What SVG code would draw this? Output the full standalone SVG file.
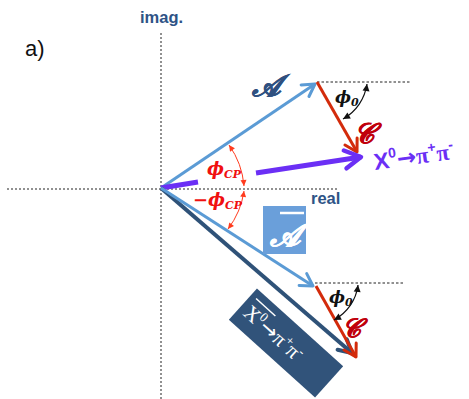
<svg xmlns="http://www.w3.org/2000/svg" width="469" height="399" viewBox="0 0 469 399">
<style>
.axis{stroke:#222;stroke-width:1;stroke-dasharray:2 2;fill:none}
.ref{stroke:#222;stroke-width:1;stroke-dasharray:2.5 2;fill:none}
.lbl{font-family:"Liberation Sans","DejaVu Sans",sans-serif;font-weight:bold;fill:#2e5386}
.phi{font-family:"DejaVu Serif","DejaVu Sans",serif;font-weight:bold;font-style:italic}
.scr{font-family:"DejaVu Serif","DejaVu Sans","Noto Sans",serif}
</style>
<defs>
<marker id="mBlue" viewBox="-14 -8 16 16" markerWidth="16" markerHeight="16" refX="0" refY="0" orient="auto" markerUnits="userSpaceOnUse" overflow="visible"><path d="M-12,-7 L0,0 L-12,7" fill="none" stroke="#5b9bd5" stroke-width="3" stroke-linecap="round" stroke-linejoin="round"/></marker>
<marker id="mRed" viewBox="-14 -8 16 16" markerWidth="16" markerHeight="16" refX="0" refY="0" orient="auto" markerUnits="userSpaceOnUse" overflow="visible"><path d="M-12,-7 L0,0 L-12,7" fill="none" stroke="#d32b0b" stroke-width="3" stroke-linecap="round" stroke-linejoin="round"/></marker>
<marker id="mDark" viewBox="-14 -8 16 16" markerWidth="16" markerHeight="16" refX="0" refY="0" orient="auto" markerUnits="userSpaceOnUse" overflow="visible"><path d="M-13,-7 L0,0 L-13,7" fill="none" stroke="#2f5278" stroke-width="4" stroke-linecap="round" stroke-linejoin="round"/></marker>
<marker id="mPurple" viewBox="-20 -10 22 20" markerWidth="22" markerHeight="20" refX="0" refY="0" orient="auto" markerUnits="userSpaceOnUse" overflow="visible"><path d="M-16,-9 L0,0 L-16,9" fill="none" stroke="#6b2ff5" stroke-width="4.5" stroke-linecap="round" stroke-linejoin="round"/></marker>
<marker id="aRed" viewBox="-6 -4 7 8" markerWidth="7" markerHeight="8" refX="0" refY="0" orient="auto-start-reverse" markerUnits="userSpaceOnUse" overflow="visible"><path d="M-6,-3 L0,0 L-6,3 Z" fill="#ff3b1e"/></marker>
<marker id="aBlack" viewBox="-6 -4 7 8" markerWidth="7" markerHeight="8" refX="0" refY="0" orient="auto-start-reverse" markerUnits="userSpaceOnUse" overflow="visible"><path d="M-7,-3.5 L0,0 L-7,3.5 Z" fill="#111"/></marker>
</defs>

<g id="axes">
<line class="axis" x1="161" y1="33" x2="161" y2="399"/>
<line class="axis" x1="7" y1="189" x2="338" y2="189"/>
<line class="ref" x1="317" y1="82" x2="410" y2="82"/>
<line class="ref" x1="315" y1="283" x2="403" y2="283"/>
</g>

<text x="25" y="56" font-family="Liberation Sans, DejaVu Sans, sans-serif" font-size="22" fill="#111">a)</text>
<text class="lbl" x="140" y="23" font-size="16.5">imag.</text>
<text class="lbl" x="311" y="204" font-size="16.5">real</text>

<g id="connectors">
<line x1="161" y1="188" x2="315" y2="84" stroke="#5b9bd5" stroke-width="3" marker-end="url(#mBlue)"/>
<line x1="317" y1="82" x2="357" y2="152" stroke="#d32b0b" stroke-width="3" marker-end="url(#mRed)"/>
<line x1="161" y1="188" x2="198" y2="182" stroke="#6b2ff5" stroke-width="5"/>
<line x1="256" y1="173" x2="361" y2="157" stroke="#6b2ff5" stroke-width="5" marker-end="url(#mPurple)"/>
<line x1="161" y1="188" x2="352" y2="353" stroke="#2f5278" stroke-width="4" marker-end="url(#mDark)"/>
<line x1="161" y1="188" x2="313" y2="286" stroke="#5b9bd5" stroke-width="3" marker-end="url(#mBlue)"/>
<line x1="316" y1="286" x2="356" y2="357" stroke="#d32b0b" stroke-width="3" marker-end="url(#mRed)"/>
<path d="M229,145 A82,82 0 0,1 244,186" fill="none" stroke="#ff3b1e" stroke-width="1" marker-start="url(#aRed)" marker-end="url(#aRed)"/>
<path d="M244,191 A82,82 0 0,1 228,229" fill="none" stroke="#ff3b1e" stroke-width="1" marker-start="url(#aRed)" marker-end="url(#aRed)"/>
<path d="M367,84 A48,48 0 0,1 343,119" fill="none" stroke="#111" stroke-width="1.2" marker-start="url(#aBlack)" marker-end="url(#aBlack)"/>
<path d="M358,285 A46,46 0 0,1 334,320" fill="none" stroke="#111" stroke-width="1.2" marker-start="url(#aBlack)" marker-end="url(#aBlack)"/>
</g>

<g id="labels">
<text class="scr" x="252" y="96" font-size="30" font-weight="bold" font-style="italic" fill="#2f5080" stroke="#2f5080" stroke-width="0.6">𝒜</text>
<text class="scr" x="354" y="143" font-size="28" font-weight="bold" font-style="italic" fill="#c0000c" stroke="#c0000c" stroke-width="0.6">𝒞</text>
<text class="scr" x="342" y="337" font-size="26" font-weight="bold" font-style="italic" fill="#c0000c" stroke="#c0000c" stroke-width="0.6">𝒞</text>
<text class="phi" x="335" y="103" font-size="17" fill="#111">ϕ<tspan font-size="11" dy="3">0</tspan></text>
<text class="phi" x="329" y="303" font-size="17" fill="#111">ϕ<tspan font-size="11" dy="3">0</tspan></text>
<text class="phi" x="207" y="175" font-size="18" fill="#f01010">ϕ<tspan font-size="11" dy="3">CP</tspan></text>
<text class="phi" x="193" y="206" font-size="18" fill="#f01010">−ϕ<tspan font-size="11" dy="3">CP</tspan></text>
</g>

<g id="node-purple" transform="translate(375,170) rotate(-8)">
<text font-family="Liberation Sans, DejaVu Sans, sans-serif" font-weight="bold" font-size="23" fill="#6b2ff5">X<tspan font-size="14" dy="-10">0</tspan><tspan dy="10" font-family="DejaVu Sans, sans-serif">→</tspan><tspan font-family="Liberation Serif, DejaVu Serif, serif">π</tspan><tspan font-size="14" dy="-10">+</tspan><tspan dy="10" font-family="Liberation Serif, DejaVu Serif, serif">π</tspan><tspan font-size="14" dy="-10">-</tspan></text>
</g>

<g id="node-abar">
<rect x="263" y="206" width="43" height="48" fill="#6a9fda"/>
<line x1="280" y1="213" x2="304" y2="213" stroke="#fff" stroke-width="2.5"/>
<text class="scr" x="285" y="246" font-size="32" font-weight="bold" font-style="italic" fill="#fff" stroke="#fff" stroke-width="0.6" text-anchor="middle">𝒜</text>
</g>

<g id="node-bar" transform="translate(286,343) rotate(42)">
<rect x="-58" y="-21" width="116" height="42" fill="#31537a"/>
<line x1="-52" y1="-13" x2="-26" y2="-13" stroke="#fff" stroke-width="1.5"/>
<text x="-52" y="8" font-family="Liberation Serif, DejaVu Serif, serif" font-size="21" fill="#fff">X<tspan font-size="13" dy="-8">0</tspan><tspan dy="8" font-family="DejaVu Sans, sans-serif">→</tspan>π<tspan font-size="13" dy="-8">+</tspan><tspan dy="8">π</tspan><tspan font-size="13" dy="-8">-</tspan></text>
</g>
</svg>
